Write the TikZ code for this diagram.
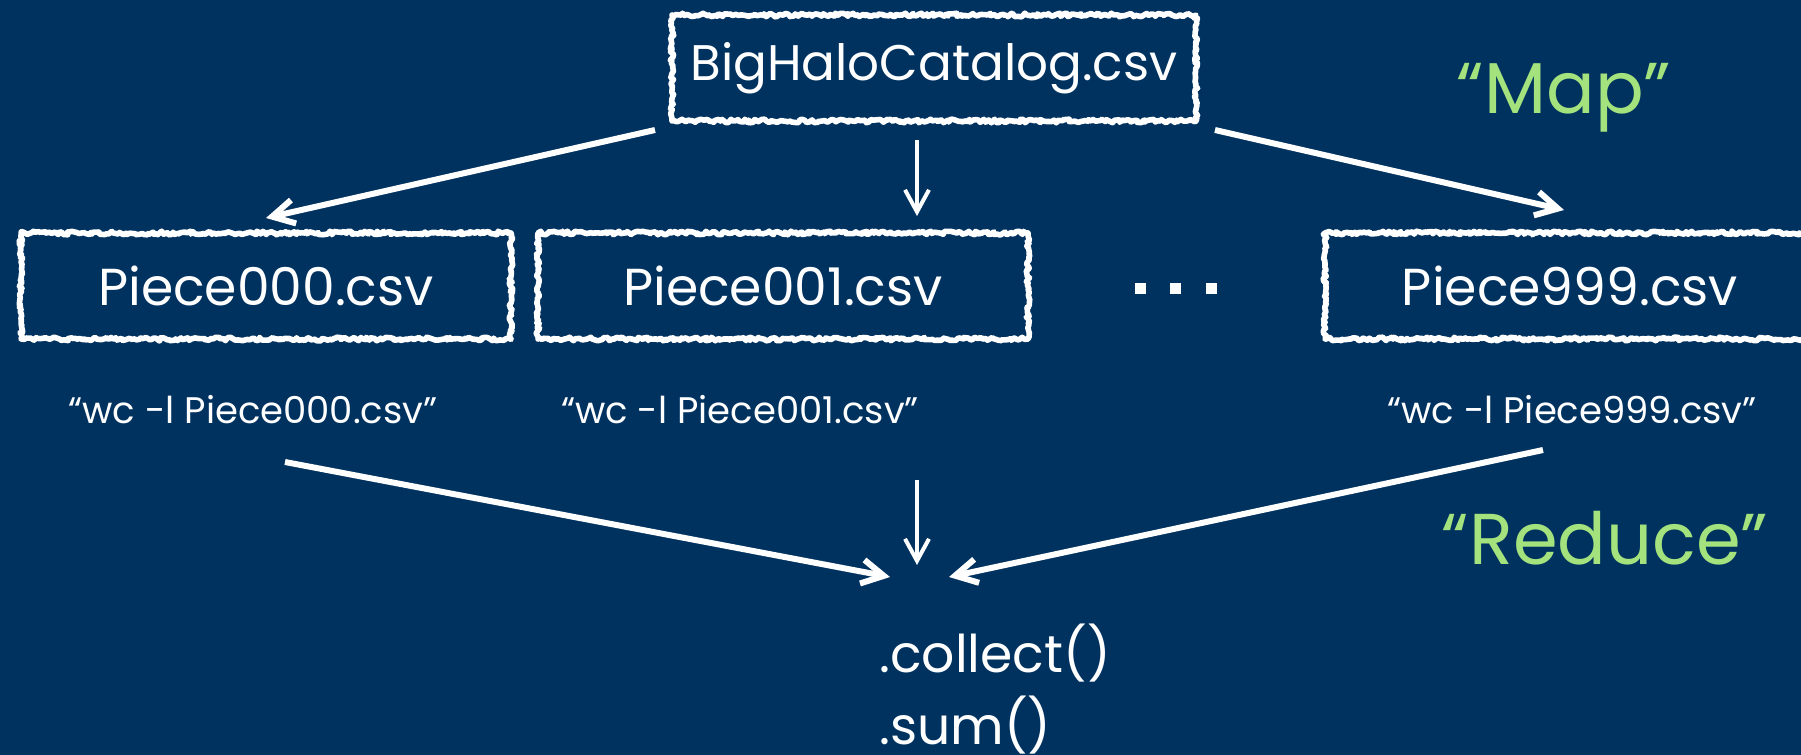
\documentclass[tikz,border=0pt]{standalone}
\usepackage{fontspec}
\setmainfont{Poppins}
\usetikzlibrary{arrows.meta,decorations.pathmorphing}
\definecolor{slidebg}{RGB}{0,50,96}
\definecolor{chalkgreen}{RGB}{163,226,125}
\tikzset{>={Straight Barb[length=11pt,width=12pt]}}
\tikzset{chalkbox/.style={draw=white, line width=2.8pt, line join=round, decorate,
    decoration={random steps, segment length=1.1pt, amplitude=0.9pt},
    minimum height=53pt, text=white, font=\fontsize{26}{30}\selectfont}}
\tikzset{cmd/.style={text=white, inner sep=0pt, font=\fontsize{18.5}{22}\selectfont}}
\tikzset{phase/.style={text=chalkgreen, inner sep=0pt, font=\fontsize{36}{40}\selectfont}}
\tikzset{flow/.style={->, white, line width=3pt}}
\tikzset{down/.style={->, white, line width=2pt}}

\begin{document}
\begin{tikzpicture}[x=0.5pt,y=-0.5pt]
  \pgfmathsetseed{7}
  \clip (0,0) rectangle (1801,755);
  \fill[slidebg] (0,0) rectangle (1801,755);
  % the catalog and its pieces
  \node[chalkbox, minimum width=262pt, font=\fontsize{25}{30}\selectfont] (big) at (934,68) {BigHaloCatalog.csv};
  \node[chalkbox, minimum width=245pt] (p000) at (266,286) {Piece000.csv};
  \node[chalkbox, minimum width=245pt] (p001) at (783,286) {Piece001.csv};
  \node[chalkbox, minimum width=245pt] (p999) at (1570,286) {Piece999.csv};
  \foreach \x in {1140,1175,1211}
    \fill[white] (\x-5.5,282.5) rectangle ++(11,11);
  % commands run on each piece
  \node[cmd] (c000) at (253,410) {“wc -l Piece000.csv”};
  \node[cmd] (c001) at (740,410) {“wc -l Piece001.csv”};
  \node[cmd] (c999) at (1572,410) {“wc -l Piece999.csv”};
  \node[phase] (map) at (1564,98) {“Map”};
  \node[phase] (reduce) at (1605,538) {“Reduce”};
  \node[cmd, align=left, anchor=west, font=\fontsize{26}{36}\selectfont] (res) at (879,689) {.collect()\\.sum()};
  % arrow ends
  \coordinate (s0) at (655,130);
  \coordinate (t0) at (266,218);
  \coordinate (s1) at (917,140);
  \coordinate (t1) at (917,216);
  \coordinate (s2) at (1215,130);
  \coordinate (t2) at (1564,210);
  \coordinate (r0) at (285,462);
  \coordinate (q0) at (890,577);
  \coordinate (r1) at (917,480);
  \coordinate (q1) at (917,565);
  \coordinate (r2) at (1543,450);
  \coordinate (q2) at (949,577);
  \draw[flow] (s0) -- (t0);
  \draw[down] (s1) -- (t1);
  \draw[flow] (s2) -- (t2);
  \draw[flow] (r0) -- (q0);
  \draw[down] (r1) -- (q1);
  \draw[flow] (r2) -- (q2);
\end{tikzpicture}
\end{document}
